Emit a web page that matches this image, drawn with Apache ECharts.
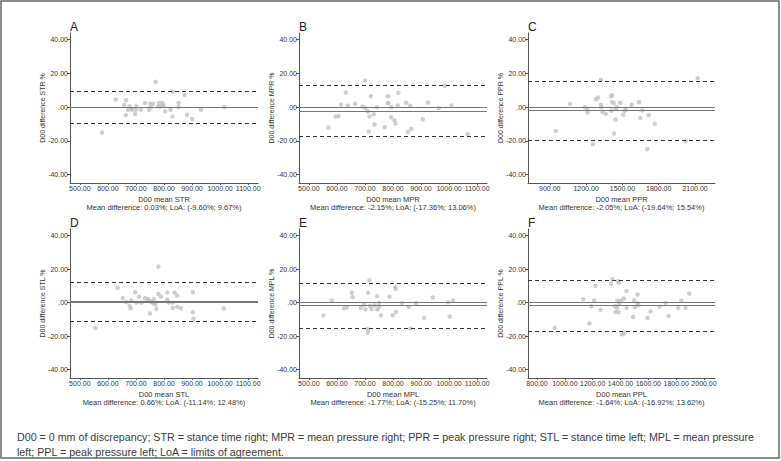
<!DOCTYPE html>
<html>
<head>
<meta charset="utf-8">
<script src="https://cdn.jsdelivr.net/npm/echarts@6/dist/echarts.min.js"></script>
<style>
html,body{margin:0;padding:0;background:#fff;}
#chart{width:781px;height:461px;}
</style>
</head>
<body>
<div id="chart"></div>
<script>
// ---- data ----
const panelLetters = ['A','B','C','D','E','F'];
const measureNames = ['STR','MPR','PPR','STL','MPL','PPL'];

const strX = [579,628,658,665,664,672,677,683,686,697,702,700,717,732,747,751,753,761,770,780,783,786,794,796,798,804,823,832,830,852,852,873,882,900,932,1015];
const strY = [-15.0,4.5,1.3,4.1,-4.7,-1.5,0.5,-1.0,-1.5,-3.9,0.5,-1.5,-1.5,2.5,-1.5,2.0,0.0,2.0,15.0,0.5,2.5,0.5,2.5,1.0,0.7,-2.5,-1.5,9.2,-5.5,2.5,0.0,7.3,-4.5,-7.0,-1.5,0.0];

const mprX = [570,596,606,615,632,639,665,691,701,702,711,714,716,721,731,734,743,770,782,782,784,793,794,805,809,817,819,847,853,861,865,906,925,963,984,1008,1066];
const mprY = [-12.1,-5.6,-5.3,1.6,8.7,0.8,2.0,0.4,15.9,-0.5,-2.6,-14.5,-5.6,6.5,-4.2,-10.3,0.0,-11.9,6.5,2.4,2.4,-6.0,0.0,-7.9,-9.7,1.0,8.5,2.6,-14.7,0.8,-12.9,-7.3,2.8,-0.6,12.7,1.0,-16.0];

const pprX = [950,1066,1190,1209,1212,1258,1282,1299,1323,1323,1326,1335,1363,1407,1415,1415,1429,1409,1431,1443,1445,1454,1482,1507,1520,1528,1576,1639,1647,1664,1705,1717,1766,2023,2122];
const pprY = [-14.1,1.9,0.0,-0.9,-3.1,-22.0,4.7,5.7,16.3,1.3,0.0,-2.9,-4.0,6.5,7.1,3.1,2.3,-2.1,-15.7,-7.3,-0.9,0.1,2.5,-4.5,-2.1,-1.5,1.5,2.9,-6.5,-1.9,-24.8,-4.7,-9.9,-20.2,17.2];

const stlX = [555,635,653,665,677,681,683,697,702,711,720,732,744,750,743,754,763,764,769,773,780,780,789,812,812,817,831,831,838,847,847,860,903,903,905,1013];
const stlY = [-15.2,8.8,2.7,0.3,-1.9,-3.3,1.3,6.2,0.0,3.5,0.0,2.7,2.1,-6.5,1.3,0.4,2.1,-0.6,-1.0,-3.7,21.5,5.2,3.6,6.0,1.7,0.0,-3.1,0.0,6.0,4.2,-2.5,-3.3,6.2,-5.7,-9.6,-3.3];

const mplX = [552,582,625,635,653,656,686,697,702,709,711,711,716,718,724,734,744,744,750,750,757,788,799,808,810,811,832,856,862,882,911,941,996,1002,1014];
const mplY = [-7.7,1.2,-3.4,-2.8,5.9,3.3,-3.0,-1.2,-4.0,-15.8,-17.8,5.9,13.4,-2.0,-3.8,-1.6,3.9,-4.0,-0.2,-2.4,-7.7,3.6,-7.5,9.3,8.1,-5.6,-0.2,-2.6,-15.4,-0.2,-9.1,3.1,0.2,-8.3,1.2];

const pplX = [927,1131,1177,1190,1210,1219,1256,1332,1341,1361,1364,1378,1383,1388,1386,1375,1390,1404,1424,1443,1443,1410,1429,1490,1498,1503,1522,1522,1528,1594,1616,1681,1724,1746,1815,1838,1868,1894];
const pplY = [-15.0,2.1,-12.4,-2.1,1.3,10.0,-4.3,11.2,14.0,-2.1,-5.7,1.1,12.8,12.0,-5.7,-3.1,-0.5,1.3,2.5,7.0,-3.1,-18.9,-18.3,-8.6,1.5,-2.8,4.9,-0.3,-1.4,-9.2,-5.2,-2.5,-0.1,-7.9,-3.1,1.1,-3.1,5.5];

const meanDiff = [0.03,-2.15,-2.05,0.66,-1.77,-1.64];
const loaLow  = [-9.60,-17.36,-19.64,-11.14,-15.25,-16.92];
const loaHigh = [9.67,13.06,15.54,12.48,11.70,13.62];

const yTicks = [-40,-20,0,20,40];
const xTicksMean = [500,600,700,800,900,1000,1100];
const xTicksPPR = [900,1200,1500,1800,2100];
const xTicksPPL = [800,1000,1200,1400,1600,1800,2000];

const captionLines = [
  'D00 = 0 mm of discrepancy; STR = stance time right; MPR = mean pressure right; PPR = peak pressure right; STL = stance time left; MPL = mean pressure',
  'left; PPL = peak pressure left; LoA = limits of agreement.'
];

// ---- layout ----
const xs = [strX,mprX,pprX,stlX,mplX,pplX];
const ys = [strY,mprY,pprY,stlY,mplY,pplY];
const xTicks = [xTicksMean,xTicksMean,xTicksPPR,xTicksMean,xTicksMean,xTicksPPL];
const xRange = [[465,1135],[465,1135],[720,2265],[465,1135],[465,1135],[735,2079]];
const gridBoxes = [
  {left:70, top:33, width:188, height:150},
  {left:299, top:33, width:188, height:150},
  {left:528, top:33, width:187, height:150},
  {left:70, top:229, width:188, height:149},
  {left:299, top:229, width:188, height:149},
  {left:528, top:229, width:187, height:149}
];
const smallFont = '"Liberation Sans Narrow", "Liberation Sans", Arial, sans-serif';
const txt = '#333';
const axisCol = '#555';

function fmt(v){ const s = Math.abs(v).toFixed(2); const t = (Math.abs(v) < 1 ? s.replace(/^0/,'') : s); return (v<0?'-':'') + t; }
function pct(v){ return v.toFixed(2) + '%'; }

const grid = [], xAxis = [], yAxis = [], series = [], graphic = [];
gridBoxes.forEach((b,i)=>{
  grid.push(Object.assign({containLabel:false, outerBoundsMode:'none'}, b));
  xAxis.push({
    type:'value', gridIndex:i, min:xRange[i][0], max:xRange[i][1],
    splitLine:{show:false},
    axisLine:{show:true, onZero:false, lineStyle:{color:axisCol, width:1}},
    axisTick:{show:true, length:2, lineStyle:{color:axisCol}, customValues:xTicks[i]},
    axisLabel:{fontSize:7, color:txt, fontFamily:smallFont, margin:2, customValues:xTicks[i], formatter:v=>fmt(v)}
  });
  yAxis.push({
    type:'value', gridIndex:i, min:-45, max:44,
    splitLine:{show:false},
    axisLine:{show:true, onZero:false, lineStyle:{color:axisCol, width:1}},
    axisTick:{show:true, length:3, lineStyle:{color:axisCol}, customValues:yTicks},
    axisLabel:{fontSize:7, color:txt, fontFamily:smallFont, margin:2, customValues:yTicks, formatter:v=>fmt(v)}
  });
  const data = xs[i].map((x,k)=>[x, ys[i][k]]);
  series.push({
    type:'scatter', xAxisIndex:i, yAxisIndex:i, data:data,
    symbolSize:4.5, itemStyle:{color:'#c2c2c2'}, silent:true, z:3,
    markLine:{
      silent:true, symbol:'none', label:{show:false}, animation:false,
      data:[
        {yAxis:0, lineStyle:{type:'solid', color:'#777', width:1.2}},
        {yAxis:meanDiff[i], lineStyle:{type:'solid', color:'#777', width:1.2}},
        {yAxis:loaLow[i], lineStyle:{type:[4,3], color:'#333', width:1}},
        {yAxis:loaHigh[i], lineStyle:{type:[4,3], color:'#333', width:1}}
      ]
    }
  });
  // panel letter
  graphic.push({type:'text', left:b.left, top:b.top-12, style:{text:panelLetters[i], font:'12px "Liberation Sans", Arial, sans-serif', fill:'#222'}});
  // y axis name
  graphic.push({type:'text', x:b.left-28, y:b.top+b.height/2, rotation:Math.PI/2,
    style:{text:'D00 difference '+measureNames[i]+' %', font:'7px '+smallFont, fill:txt, align:'center', verticalAlign:'middle'}});
  // x axis name
  graphic.push({type:'text', x:b.left+b.width/2, y:b.top+b.height+16, 
    style:{text:'D00 mean '+measureNames[i], font:'7.5px '+smallFont, fill:txt, align:'center', verticalAlign:'middle'}});
  graphic.push({type:'text', x:b.left+b.width/2, y:b.top+b.height+24.5,
    style:{text:'Mean difference: '+pct(meanDiff[i])+'; LoA: ('+pct(loaLow[i])+'; '+pct(loaHigh[i])+')', font:'7.5px '+smallFont, fill:txt, align:'center', verticalAlign:'middle'}});
});
// outer frame
graphic.push({type:'rect', shape:{x:1, y:1, width:778, height:457}, style:{fill:'none', stroke:'#666', lineWidth:1.5}, z:-1});
// caption
captionLines.forEach((l,k)=>{
  graphic.push({type:'text', x:17, y:437+k*15, style:{text:l, font:'10.7px "Liberation Sans", Arial, sans-serif', fill:'#3a3a3a', verticalAlign:'middle'}});
});

const chart = echarts.init(document.getElementById('chart'), null, {renderer:'svg'});
chart.setOption({animation:false, grid, xAxis, yAxis, series, graphic});
</script>
</body>
</html>
